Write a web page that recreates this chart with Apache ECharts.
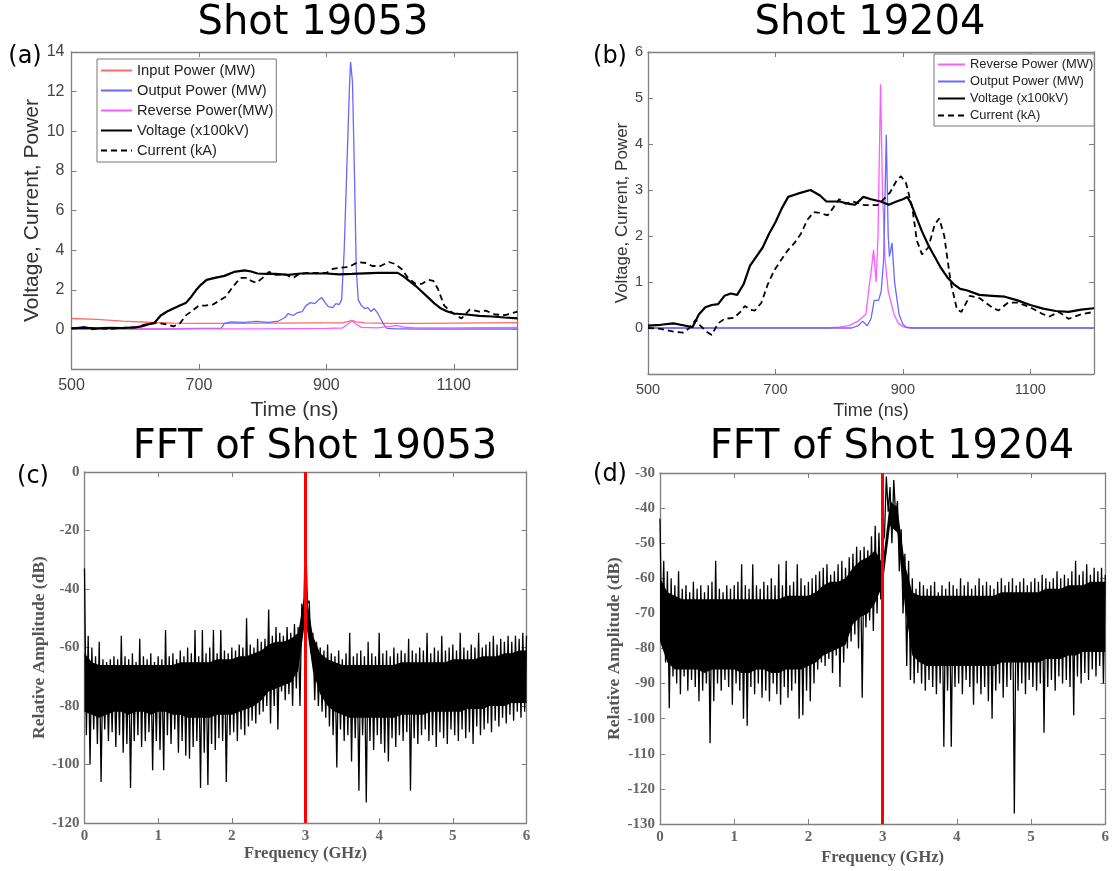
<!DOCTYPE html>
<html>
<head>
<meta charset="utf-8">
<script src="https://cdn.jsdelivr.net/npm/echarts@6/dist/echarts.min.js"></script>
<style>
html,body{margin:0;padding:0;background:#fff;}
#chart{width:1112px;height:871px;}
</style>
</head>
<body>
<div id="chart"></div>
<script>
// ---------- Panel (a): Shot 19053 (time in ns, value) ----------
const aInput = [[500,0.55],[540,0.5],[580,0.42],[620,0.36],[660,0.32],[700,0.3],[760,0.3],[820,0.32],[880,0.33],[925,0.33],[935,0.4],[940,0.45],[947,0.38],[960,0.33],[1000,0.3],[1050,0.3],[1100,0.32],[1150,0.33],[1200,0.34]];
const aOutput = [[500,0.03],[510,0.1],[520,0.15],[530,0.05],[560,0.02],[600,0.03],[650,0.02],[700,0.05],[735,0.05],[740,0.3],[750,0.38],[770,0.35],[790,0.4],[810,0.35],[825,0.42],[835,0.6],[840,0.8],[848,0.7],[855,0.85],[862,0.9],[868,1.2],[875,1.35],[882,1.3],[888,1.5],[893,1.6],[898,1.35],[903,1.15],[910,1.1],[915,1.3],[920,1.25],[924,1.5],[928,4],[932,8],[936,12],[938,13.5],[941,12.5],[944,8],[947,3],[950,1.5],[955,1.2],[960,1.05],[965,1.1],[970,0.9],[975,1.05],[980,0.85],[985,0.55],[990,0.25],[995,0.05],[1010,0.03],[1050,0.02],[1100,0.02],[1150,0.02],[1200,0.02]];
const aReverse = [[500,0.02],[600,0.02],[700,0.03],[800,0.03],[900,0.05],[925,0.07],[935,0.3],[940,0.45],[945,0.3],[955,0.1],[980,0.08],[1000,0.15],[1010,0.2],[1020,0.12],[1040,0.08],[1100,0.08],[1200,0.1]];
const aVoltage = [[500,0.05],[520,0.08],[540,0.05],[560,0.08],[580,0.07],[600,0.1],[610,0.15],[620,0.25],[630,0.32],[640,0.7],[650,0.9],[660,1.05],[670,1.2],[680,1.35],[688,1.65],[696,2.0],[703,2.25],[712,2.5],[725,2.6],[740,2.7],[755,2.9],[772,2.98],[782,2.92],[792,2.82],[805,2.8],[820,2.8],[840,2.75],[860,2.82],[880,2.82],[900,2.82],[920,2.78],[940,2.8],[960,2.83],[980,2.85],[1000,2.85],[1012,2.85],[1020,2.7],[1030,2.45],[1040,2.2],[1050,1.9],[1060,1.6],[1070,1.3],[1080,1.05],[1090,0.9],[1100,0.8],[1120,0.75],[1140,0.68],[1160,0.65],[1180,0.6],[1200,0.56]];
const aCurrent = [[500,0.05],[520,0.1],[530,0.0],[545,0.05],[560,0.02],[580,0.08],[600,0.1],[620,0.28],[635,0.32],[650,0.25],[660,0.15],[670,0.3],[680,0.72],[690,0.95],[700,1.2],[710,1.2],[722,1.25],[732,1.45],[742,1.65],[752,2.1],[765,2.6],[775,2.6],[782,2.45],[790,2.35],[800,2.6],[810,2.9],[820,2.75],[835,2.78],[848,2.6],[858,2.8],[870,2.85],[885,2.85],[900,2.85],[910,3.05],[920,3.1],[935,3.15],[950,3.4],[962,3.35],[972,3.2],[985,3.2],[998,3.4],[1008,3.3],[1018,3.05],[1028,2.6],[1040,2.3],[1050,2.3],[1060,2.5],[1068,2.45],[1075,2.05],[1085,1.2],[1095,0.9],[1105,0.7],[1112,0.55],[1125,1.0],[1140,0.9],[1150,0.95],[1165,0.75],[1180,0.72],[1190,0.8],[1200,0.9]];

// ---------- Panel (b): Shot 19204 ----------
const bReverse = [[500,0],[780,0],[800,0.02],[815,0.05],[830,0.15],[842,0.3],[847,0.9],[850,1.2],[854,1.7],[858,1.0],[861,2.0],[865,5.3],[868,3.0],[872,1.5],[877,0.8],[886,0.3],[893,0.1],[900,0.03],[910,0],[1200,0]];
const bOutput = [[500,0],[820,0],[830,0.05],[837,0.15],[844,0.05],[850,0.2],[855,0.6],[862,0.6],[866,0.8],[870,1.5],[874,4.2],[877,2.0],[879,1.55],[883,1.85],[887,1.0],[894,0.3],[900,0.08],[905,0.02],[915,0],[1200,0]];
const bVoltage = [[500,0.05],[520,0.07],[540,0.1],[555,0.06],[570,0.02],[580,0.3],[590,0.45],[600,0.5],[610,0.52],[620,0.7],[630,0.75],[640,0.72],[650,0.95],[660,1.35],[670,1.55],[680,1.75],[690,2.05],[700,2.3],[710,2.6],[720,2.85],[735,2.92],[755,3.0],[770,2.88],[780,2.75],[800,2.75],[815,2.7],[825,2.68],[838,2.85],[850,2.8],[865,2.75],[878,2.68],[890,2.75],[900,2.8],[907,2.85],[913,2.7],[920,2.45],[930,2.1],[940,1.8],[950,1.55],[960,1.3],[970,1.1],[980,0.95],[990,0.85],[1000,0.82],[1020,0.72],[1040,0.7],[1060,0.68],[1080,0.6],[1100,0.5],[1120,0.42],[1140,0.37],[1160,0.35],[1180,0.4],[1200,0.43]];
const bCurrent = [[500,0.0],[520,-0.02],[540,-0.08],[555,-0.1],[565,0.0],[575,0.18],[582,0.05],[592,-0.08],[600,-0.15],[610,0.1],[620,0.2],[635,0.22],[645,0.35],[652,0.48],[660,0.4],[668,0.38],[678,0.55],[688,0.95],[698,1.25],[710,1.5],[720,1.7],[730,1.85],[740,2.05],[750,2.35],[760,2.52],[770,2.5],[782,2.45],[790,2.6],[800,2.8],[810,2.7],[822,2.75],[840,2.67],[860,2.67],[870,2.8],[880,2.95],[890,3.2],[897,3.3],[905,3.15],[915,2.6],[922,1.9],[930,1.6],[940,1.75],[950,2.25],[957,2.38],[965,2.0],[975,1.0],[985,0.4],[992,0.35],[1005,0.7],[1020,0.65],[1040,0.45],[1050,0.38],[1065,0.55],[1080,0.55],[1100,0.45],[1120,0.3],[1130,0.25],[1145,0.35],[1160,0.2],[1180,0.3],[1200,0.35]];

// ---------- Panels (c),(d): FFT (dB) ----------
// local maxima read at k*0.05 GHz, local minima read at k*0.05+0.025 GHz
const fftStep = 0.05;
const cTop = [-33,-56,-60,-63,-58,-64,-65,-64,-63,-64,-56,-63,-64,-62,-65,-57,-63,-64,-62,-65,-63,-64,-54,-63,-62,-64,-61,-63,-60,-62,-54,-63,-54,-62,-60,-54,-62,-54,-61,-62,-60,-61,-59,-60,-50,-59,-60,-57,-58,-57,-47,-56,-53,-55,-56,-53,-55,-52,-53,-45,-19,-44,-55,-58,-60,-61,-59,-62,-63,-61,-64,-62,-55,-63,-62,-61,-63,-58,-62,-63,-55,-62,-61,-63,-60,-62,-61,-62,-57,-61,-62,-60,-61,-55,-62,-60,-61,-56,-61,-60,-59,-61,-55,-60,-61,-59,-60,-55,-60,-59,-58,-56,-59,-57,-58,-56,-58,-56,-57,-55,-56];
const cBot = [-90,-100,-88,-93,-106,-88,-92,-89,-94,-90,-96,-93,-108,-92,-90,-94,-92,-89,-102,-92,-95,-102,-90,-93,-88,-96,-92,-97,-98,-94,-92,-108,-96,-107,-93,-95,-91,-92,-106,-90,-89,-92,-88,-90,-87,-85,-86,-83,-82,-80,-86,-80,-88,-75,-78,-76,-80,-74,-80,-50,-45,-62,-78,-80,-82,-84,-87,-90,-101,-88,-92,-90,-99,-91,-109,-90,-113,-92,-95,-90,-93,-96,-99,-91,-94,-90,-92,-89,-109,-91,-93,-90,-88,-92,-90,-94,-89,-91,-93,-88,-90,-92,-88,-91,-89,-93,-87,-90,-88,-86,-89,-85,-87,-84,-86,-83,-85,-82,-84,-82];
const dTop = [-43,-55,-58,-60,-62,-58,-63,-62,-64,-61,-63,-62,-64,-62,-61,-55,-63,-64,-62,-63,-62,-61,-56,-62,-63,-56,-62,-63,-61,-62,-60,-62,-56,-62,-55,-62,-61,-56,-60,-62,-61,-60,-59,-58,-57,-56,-59,-58,-56,-55,-57,-54,-53,-51,-52,-51,-52,-48,-45,-47,-50,-31,-34,-32,-38,-46,-53,-55,-60,-63,-61,-62,-63,-62,-61,-64,-62,-63,-61,-62,-63,-60,-62,-61,-63,-62,-60,-62,-61,-62,-63,-61,-60,-62,-61,-60,-62,-61,-60,-62,-61,-60,-61,-59,-60,-61,-60,-58,-60,-59,-60,-58,-55,-59,-58,-56,-59,-57,-58,-57,-59];
const dBot = [-78,-84,-97,-88,-90,-93,-88,-92,-89,-91,-95,-92,-90,-107,-95,-90,-92,-89,-91,-96,-90,-92,-100,-102,-91,-93,-90,-94,-92,-95,-90,-93,-96,-91,-94,-92,-90,-100,-99,-92,-95,-90,-86,-84,-85,-83,-87,-82,-91,-84,-80,-78,-76,-80,-94,-74,-72,-75,-70,-66,-48,-41,-50,-42,-58,-70,-85,-89,-90,-87,-90,-92,-89,-91,-93,-90,-108,-92,-108,-91,-90,-93,-89,-91,-96,-90,-93,-91,-95,-100,-92,-90,-94,-91,-89,-127,-92,-90,-93,-89,-91,-92,-90,-104,-91,-89,-92,-88,-90,-89,-91,-99,-88,-90,-87,-89,-86,-88,-85,-90];
// solid core of the noise band, read every 0.1 GHz
const coreStep = 0.1;
const cCoreTop = [-62,-65,-66,-66,-66,-66,-66,-66,-66,-66,-66,-66,-66,-65,-65,-65,-65,-65,-64,-64,-64,-63,-63,-62,-61,-59,-58,-58,-57,-55,-40,-56,-62,-64,-65,-66,-66,-66,-66,-66,-66,-66,-66,-65,-65,-65,-65,-65,-65,-65,-64,-64,-64,-64,-63,-63,-63,-62,-62,-61,-61];
const cCoreBot = [-82,-83,-84,-83,-82,-82,-83,-82,-82,-83,-82,-82,-83,-83,-84,-84,-84,-84,-83,-83,-83,-82,-81,-80,-78,-75,-74,-73,-72,-68,-50,-68,-76,-80,-82,-83,-84,-84,-84,-84,-84,-84,-84,-83,-83,-83,-83,-82,-82,-82,-82,-82,-81,-81,-81,-80,-80,-80,-79,-79,-79];
const dCoreTop = [-60,-64,-65,-66,-66,-66,-66,-66,-66,-66,-66,-66,-66,-66,-66,-66,-66,-65,-65,-65,-65,-64,-62,-61,-61,-60,-57,-55,-54,-52,-56,-38,-40,-56,-64,-65,-65,-65,-65,-65,-65,-65,-65,-65,-65,-65,-64,-64,-64,-64,-64,-64,-63,-63,-63,-62,-62,-62,-61,-61,-61];
const dCoreBot = [-78,-84,-86,-86,-86,-86,-87,-86,-86,-86,-86,-87,-87,-86,-86,-87,-87,-86,-86,-86,-85,-84,-82,-81,-80,-79,-73,-71,-70,-67,-62,-45,-47,-68,-82,-84,-85,-85,-85,-85,-85,-85,-85,-85,-85,-85,-84,-84,-84,-84,-84,-84,-83,-83,-83,-82,-82,-81,-81,-81,-81];
const markerGHz = 3;

function fftSeries(top, bot){
  const out = [];
  for (let k = 0; k < top.length; k++){
    out.push([+(k*fftStep).toFixed(3), top[k]]);
    if (k < bot.length) out.push([+(k*fftStep + fftStep/2).toFixed(4), bot[k]]);
  }
  return out;
}

const chart = echarts.init(document.getElementById('chart'), null, {renderer:'canvas'});

const SANS = 'Liberation Sans, Arial, sans-serif';
const SERIF = 'Liberation Serif, Times New Roman, serif';
const TITLE_FONT = '"DejaVu Sans", sans-serif';
const FRAME = '#7f7f7f';
const plain = v => String(v);

function axisPair(kind, grid, min, max, interval, lab, extra){
  const main = Object.assign({
    type:'value', gridIndex:grid, min, max, interval,
    position: kind==='x' ? 'bottom' : 'left',
    axisLine:{show:true, onZero:false, lineStyle:{color:FRAME, width:1.3}},
    axisTick:{show:true, inside:true, length:5, lineStyle:{color:FRAME}},
    splitLine:{show:false},
    axisLabel: Object.assign({formatter:plain}, lab)
  }, extra||{});
  const twin = {
    type:'value', gridIndex:grid, min, max, interval,
    position: kind==='x' ? 'top' : 'right',
    axisLine:{show:true, onZero:false, lineStyle:{color:FRAME, width:1.3}},
    axisTick:{show:true, inside:true, length:5, lineStyle:{color:FRAME}},
    splitLine:{show:false},
    axisLabel:{show:false}
  };
  return [main, twin];
}

const sansLabA = {color:'#444', fontSize:16, fontFamily:SANS};
const sansLabB = {color:'#444', fontSize:14.5, fontFamily:SANS};
const serifLab = {color:'#666', fontSize:15, fontFamily:SERIF, fontWeight:'bold'};

const xAxes = [].concat(
  axisPair('x',0,500,1200,200,Object.assign({margin:9, showMaxLabel:false},sansLabA),
    {name:'Time (ns)', nameLocation:'middle', nameGap:31, nameTextStyle:{fontSize:21, color:'#333', fontFamily:SANS}}),
  axisPair('x',1,500,1200,200,Object.assign({margin:8, showMaxLabel:false},sansLabB),
    {name:'Time (ns)', nameLocation:'middle', nameGap:28, nameTextStyle:{fontSize:18, color:'#333', fontFamily:SANS}}),
  axisPair('x',2,0,6,1,Object.assign({margin:6},serifLab),
    {name:'Frequency (GHz)', nameLocation:'middle', nameGap:18, nameTextStyle:{fontSize:16.5, color:'#555', fontFamily:SERIF, fontWeight:'bold'}}),
  axisPair('x',3,0,6,1,Object.assign({margin:6},serifLab),
    {name:'Frequency (GHz)', nameLocation:'middle', nameGap:25, nameTextStyle:{fontSize:16.5, color:'#555', fontFamily:SERIF, fontWeight:'bold'}})
);
const yAxes = [].concat(
  axisPair('y',0,-2,14,2,Object.assign({margin:7, showMinLabel:false},sansLabA),
    {name:'Voltage, Current, Power', nameLocation:'middle', nameGap:27, nameTextStyle:{fontSize:21, color:'#333', fontFamily:SANS}}),
  axisPair('y',1,-1,6,1,Object.assign({margin:5, showMinLabel:false},sansLabB),
    {name:'Voltage, Current, Power', nameLocation:'middle', nameGap:9, nameTextStyle:{fontSize:17, color:'#333', fontFamily:SANS}}),
  axisPair('y',2,-120,0,20,Object.assign({margin:5},serifLab),
    {name:'Relative Amplitude (dB)', nameLocation:'middle', nameGap:32, nameTextStyle:{fontSize:17.5, color:'#555', fontFamily:SERIF, fontWeight:'bold'}}),
  axisPair('y',3,-130,-30,10,Object.assign({margin:5},serifLab),
    {name:'Relative Amplitude (dB)', nameLocation:'middle', nameGap:32, nameTextStyle:{fontSize:17.5, color:'#555', fontFamily:SERIF, fontWeight:'bold'}})
);

function ln(name, data, xi, color, width, type){
  return {name, type:'line', data, xAxisIndex:xi, yAxisIndex:xi, symbol:'none', showSymbol:false,
    animation:false, silent:true, lineStyle:{color, width, type:type||'solid'}, itemStyle:{color}};
}
const RED = '#ff6b6b', BLUE = '#6868ff', MAG = '#ff5cff';

function fftLine(data, xi){
  return {type:'line', data, xAxisIndex:xi, yAxisIndex:xi, symbol:'none', showSymbol:false, z:3,
    animation:false, silent:true, sampling:null, lineStyle:{color:'#000', width:1.3}, itemStyle:{color:'#000'},
    markLine:{silent:true, symbol:['none','none'], label:{show:false}, animation:false,
      lineStyle:{color:'#ff0000', width:3, type:'solid'}, data:[{xAxis:markerGHz}]}};
}
// solid core band drawn as one polygon through the axis scales
function coreBand(top, bot, xi){
  return {type:'custom', xAxisIndex:xi, yAxisIndex:xi, silent:true, animation:false, z:2,
    data:[[0, top[0]]],
    renderItem:function(params, api){
      const upper = top.map((v,k)=>api.coord([k*coreStep, v]));
      const lower = bot.map((v,k)=>api.coord([k*coreStep, v])).reverse();
      return {type:'polygon', shape:{points:upper.concat(lower)}, style:{fill:'#000'}};
    }};
}

const legendCommon = {orient:'vertical', backgroundColor:'#fff', borderColor:'#777', borderWidth:1,
  itemHeight:12, selectedMode:false, itemStyle:{opacity:0}};

const option = {
  animation:false,
  backgroundColor:'#fff',
  grid:[
    {left:71.5, top:52, width:446, height:317},
    {left:648, top:52, width:446, height:322},
    {left:84.5, top:472, width:442, height:351},
    {left:660, top:473, width:446, height:351}
  ],
  xAxis:xAxes,
  yAxis:yAxes,
  legend:[
    Object.assign({}, legendCommon, {left:97, top:59, itemGap:5, itemWidth:31, padding:[4,3,4,3],
      textStyle:{fontSize:14.7, color:'#222', fontFamily:SANS},
      data:['Input Power (MW)','Output Power (MW)','Reverse Power(MW)','Voltage (x100kV)','Current (kA)']}),
    Object.assign({}, legendCommon, {left:934, top:54, itemGap:4, itemWidth:27, padding:[4,1,4,3],
      textStyle:{fontSize:12.9, color:'#222', fontFamily:SANS},
      data:['Reverse Power (MW)','Output Power (MW) ','Voltage (x100kV) ','Current (kA) ']})
  ],
  series:[
    ln('Input Power (MW)', aInput, 0, RED, 1.3),
    ln('Output Power (MW)', aOutput, 0, BLUE, 1.3),
    ln('Reverse Power(MW)', aReverse, 0, MAG, 1.3),
    ln('Voltage (x100kV)', aVoltage, 0, '#000', 2.2),
    ln('Current (kA)', aCurrent, 0, '#000', 1.8, [6,4]),
    ln('Reverse Power (MW)', bReverse, 2, MAG, 1.3),
    ln('Output Power (MW) ', bOutput, 2, BLUE, 1.3),
    ln('Voltage (x100kV) ', bVoltage, 2, '#000', 2.2),
    ln('Current (kA) ', bCurrent, 2, '#000', 1.8, [6,4]),
    coreBand(cCoreTop, cCoreBot, 4),
    fftLine(fftSeries(cTop, cBot), 4),
    coreBand(dCoreTop, dCoreBot, 6),
    fftLine(fftSeries(dTop, dBot), 6)
  ],
  graphic:[
    {type:'text', style:{text:'Shot 19053', x:313, y:24, textAlign:'center', textVerticalAlign:'middle', font:'40px '+TITLE_FONT, fill:'#000'}},
    {type:'text', style:{text:'Shot 19204', x:870, y:24, textAlign:'center', textVerticalAlign:'middle', font:'40px '+TITLE_FONT, fill:'#000'}},
    {type:'text', style:{text:'FFT of Shot 19053', x:315, y:448, textAlign:'center', textVerticalAlign:'middle', font:'40px '+TITLE_FONT, fill:'#000'}},
    {type:'text', style:{text:'FFT of Shot 19204', x:892, y:448, textAlign:'center', textVerticalAlign:'middle', font:'40px '+TITLE_FONT, fill:'#000'}},
    {type:'text', style:{text:'(a)', x:25, y:57, textAlign:'center', textVerticalAlign:'middle', font:'24px '+TITLE_FONT, fill:'#000'}},
    {type:'text', style:{text:'(b)', x:610, y:57, textAlign:'center', textVerticalAlign:'middle', font:'24px '+TITLE_FONT, fill:'#000'}},
    {type:'text', style:{text:'(c)', x:33, y:477, textAlign:'center', textVerticalAlign:'middle', font:'24px '+TITLE_FONT, fill:'#000'}},
    {type:'text', style:{text:'(d)', x:610, y:475, textAlign:'center', textVerticalAlign:'middle', font:'24px '+TITLE_FONT, fill:'#000'}}
  ]
};
chart.setOption(option);
</script>
</body>
</html>
